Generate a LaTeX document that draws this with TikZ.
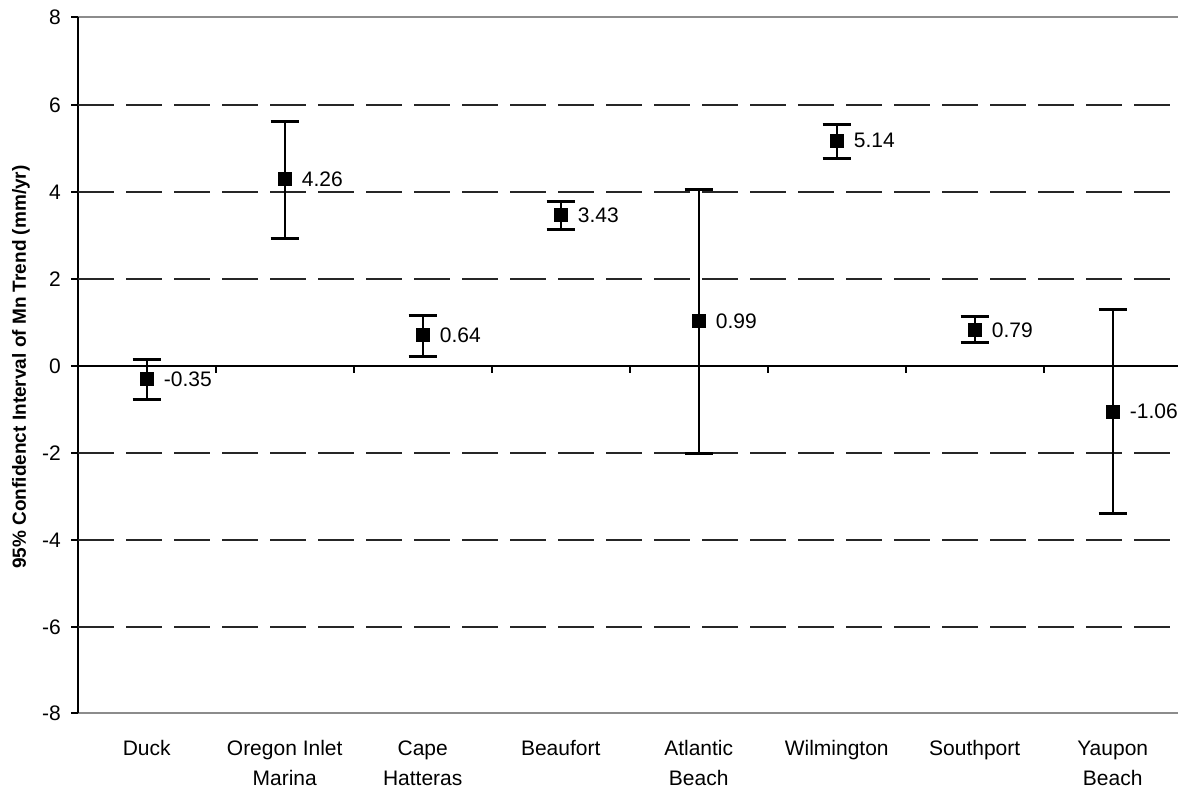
\documentclass[tikz,border=0pt]{standalone}
\usepackage{fontspec}
\setmainfont{Liberation Sans}
\begin{document}
\begin{tikzpicture}[x=1pt,y=-1pt,
  axisline/.style={line width=2pt,black},
  frameline/.style={line width=2pt,black!45},
  gridline/.style={line width=2pt,black!85,dash pattern=on 36pt off 12pt},
  zeroline/.style={line width=1.5pt,black},
  barline/.style={line width=1.6pt,black},
  capline/.style={line width=3pt,black},
  marker/.style={fill=black,draw=none,minimum size=14pt,inner sep=0pt,rectangle},
  ticklab/.style={anchor=east,inner sep=0pt,font=\fontsize{21}{24}\selectfont},
  catlab/.style={anchor=base,inner sep=0pt,font=\fontsize{21}{24}\selectfont},
  vallab/.style={anchor=west,inner sep=0pt,font=\fontsize{21}{24}\selectfont}]
\useasboundingbox (0,0) rectangle (1178,789);
% frame lines (gray)
\draw[frameline] (78,17) -- (1178,17);
\draw[frameline] (78,713) -- (1178,713);
% left axis
\draw[axisline] (78,17) -- (78,713);
\foreach \v/\yy in {8/17,6/105,4/192,2/279,0/366,-2/453,-4/540,-6/627,-8/713}{
  \draw[axisline] (71,\yy) -- (78,\yy);
  \node[ticklab] (tick\v) at (61,\yy) {\v};
}
% grid lines
\foreach \yy in {105,192,279,453,540,627}{
  \draw[gridline] (78,\yy) -- (1178,\yy);
}
% zero line with ticks
\draw[zeroline] (78,366) -- (1178,366);
\foreach \k in {1,...,7}{
  \draw[zeroline] ({78+138*\k},366) -- ({78+138*\k},373);
}
% y-axis title
\node[rotate=90,font=\fontsize{19}{22}\selectfont\bfseries,inner sep=0pt] (ytitle) at (21,367) {95\% Confidenct Interval of Mn Trend (mm/yr)};
% data
\begin{scope}[shift={(146.7,366)},x=138pt,y=43.5pt]
\foreach \i/\c/\u/\l/\lab in {0/-0.30/0.14/-0.78/-0.35, 1/4.30/5.61/2.94/4.26, 2/0.71/1.15/0.21/0.64, 3/3.47/3.79/3.13/3.43, 4/1.03/4.05/-2.0/0.99, 5/5.18/5.56/4.76/5.14, 6/0.83/1.13/0.53/0.79, 7/-1.05/1.29/-3.38/-1.06}{
  \coordinate (up\i) at (\i,\u);
  \coordinate (lo\i) at (\i,\l);
  \draw[barline] (up\i) -- (lo\i);
  \draw[capline] ([xshift=-14pt]up\i) -- ([xshift=14pt]up\i);
  \draw[capline] ([xshift=-14pt]lo\i) -- ([xshift=14pt]lo\i);
  \node[marker] (m\i) at (\i,\c) {};
  \node[vallab] (v\i) at ([xshift=17pt]m\i.center) {\lab};
}
\end{scope}
% category labels
\foreach \i/\a/\b in {0/Duck/, 1/Oregon Inlet/Marina, 2/Cape/Hatteras, 3/Beaufort/, 4/Atlantic/Beach, 5/Wilmington/, 6/Southport/, 7/Yaupon/Beach}{
  \node[catlab] (ca\i) at ({146.7+138*\i},755) {\a};
  \node[catlab] (cb\i) at ({146.7+138*\i},785) {\b};
}
\end{tikzpicture}
\end{document}
